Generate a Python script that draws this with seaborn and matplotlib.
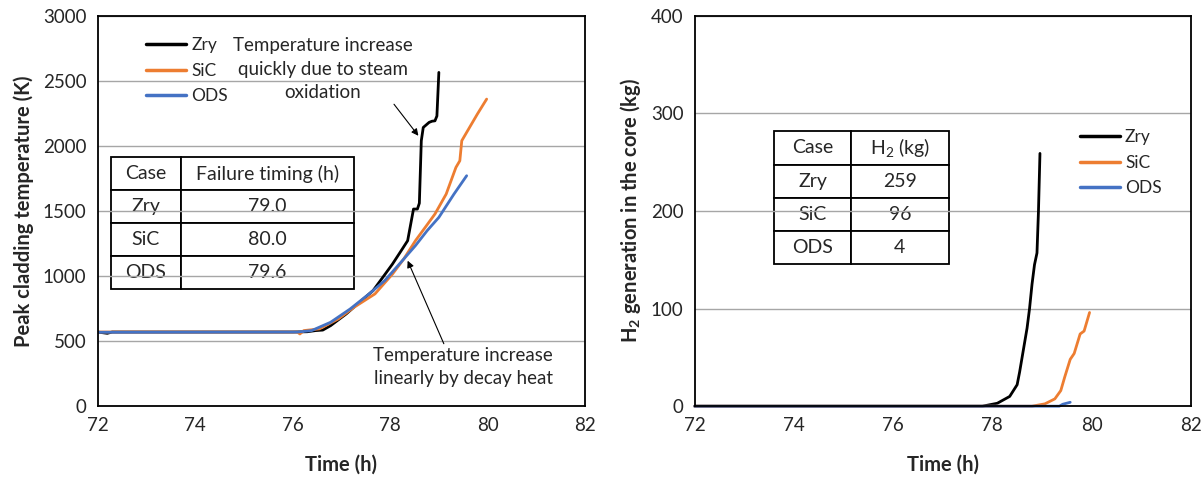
import pandas as pd
import seaborn as sns
import matplotlib.pyplot as plt

# Peak cladding temperature (K) vs time (h)
zry_t = [72.0, 72.2, 72.3, 76.0, 76.3, 76.47, 76.62, 76.78, 77.1, 77.41, 77.65, 77.85, 78.05,
         78.25, 78.36, 78.48, 78.56, 78.6, 78.64, 78.68, 78.8, 78.86, 78.92, 78.96, 79.0]
zry_temp = [570, 560, 570, 570, 572, 581, 585, 619, 709, 811, 888, 990, 1093,
            1208, 1272, 1515, 1515, 1560, 2040, 2142, 2181, 2190, 2193, 2230, 2565]
sic_t = [72.0, 76.1, 76.15, 76.23, 76.55, 76.94, 77.26, 77.69, 78.05, 78.28, 78.52, 78.72,
         78.92, 79.15, 79.35, 79.43, 79.47, 79.59, 79.79, 79.98]
sic_temp = [570, 570, 555, 581, 594, 671, 760, 863, 1016, 1131, 1272, 1374,
            1477, 1630, 1835, 1886, 2040, 2117, 2245, 2360]
ods_t = [72.0, 76.11, 76.39, 76.78, 77.18, 77.57, 77.89, 78.25, 78.52, 78.76, 79.0, 79.31, 79.57]
ods_temp = [568, 570, 581, 645, 747, 863, 965, 1118, 1234, 1349, 1451, 1630, 1771]

# H2 generation in the core (kg) vs time (h)
zry_h2_t = [72.0, 77.8, 78.1, 78.35, 78.5, 78.55, 78.6, 78.65, 78.7, 78.75, 78.8, 78.85, 78.9, 78.93, 78.96]
zry_h2 = [0, 0, 3, 10, 22, 35, 50, 65, 80, 100, 125, 145, 157, 200, 259]
sic_h2_t = [72.0, 78.8, 79.06, 79.26, 79.38, 79.46, 79.57, 79.65, 79.77, 79.85, 79.96]
sic_h2 = [0, 0, 2.4, 7.5, 16, 30, 48, 54, 74, 77, 96]
ods_h2_t = [72.0, 79.35, 79.42, 79.57]
ods_h2 = [0, 0, 2, 4]

cases = ["Zry", "SiC", "ODS"]
colors = ["#000000", "#ED7D31", "#4472C4"]
failure_timing = ["79.0", "80.0", "79.6"]
h2_total = ["259", "96", "4"]

sns.set_style("white")
plt.rcParams["font.family"] = ["Lato", "DejaVu Sans"]
plt.rcParams["mathtext.fontset"] = "custom"
plt.rcParams["mathtext.rm"] = "Lato"
plt.rcParams["mathtext.bf"] = "Lato:bold"
plt.rcParams["mathtext.default"] = "regular"

temp_df = pd.concat([
    pd.DataFrame({"time": zry_t, "value": zry_temp, "case": "Zry"}),
    pd.DataFrame({"time": sic_t, "value": sic_temp, "case": "SiC"}),
    pd.DataFrame({"time": ods_t, "value": ods_temp, "case": "ODS"}),
])
h2_df = pd.concat([
    pd.DataFrame({"time": zry_h2_t, "value": zry_h2, "case": "Zry"}),
    pd.DataFrame({"time": sic_h2_t, "value": sic_h2, "case": "SiC"}),
    pd.DataFrame({"time": ods_h2_t, "value": ods_h2, "case": "ODS"}),
])

fig = plt.figure(figsize=(12.04, 4.79), dpi=100)
ax1 = fig.add_axes([0.081, 0.152, 0.405, 0.815])
ax2 = fig.add_axes([0.577, 0.152, 0.412, 0.815])

palette = dict(zip(cases, colors))
sns.lineplot(data=temp_df, x="time", y="value", hue="case", hue_order=cases,
             palette=palette, estimator=None, linewidth=2, ax=ax1)
sns.lineplot(data=h2_df, x="time", y="value", hue="case", hue_order=cases,
             palette=palette, estimator=None, linewidth=2, ax=ax2)

for ax in (ax1, ax2):
    ax.set_xlim(72, 82)
    ax.set_xticks(range(72, 83, 2))
    ax.grid(axis="y", color="#a6a6a6", linewidth=1)
    ax.set_axisbelow(True)
    for s in ax.spines.values():
        s.set_color("black")
        s.set_linewidth(1.3)
    ax.tick_params(axis="x", direction="in", length=4, labelsize=13.5, pad=8, color="black")
    ax.tick_params(axis="y", direction="out", length=0, labelsize=13.5, pad=8)
    ax.set_xlabel("Time (h)", fontsize=14.5, fontweight="bold", labelpad=15)

ax1.set_ylim(0, 3000)
ax1.set_yticks(range(0, 3001, 500))
ax1.set_ylabel("Peak cladding temperature (K)", fontsize=14.5, fontweight="bold", labelpad=6)
ax2.set_ylim(0, 400)
ax2.set_yticks(range(0, 401, 100))
ax2.set_ylabel(r"$\mathbf{H_2}$ generation in the core (kg)", fontsize=14.5, fontweight="bold", labelpad=6)
for line in ax2.lines:
    line.set_clip_on(False)

sns.move_legend(ax1, "upper left", bbox_to_anchor=(0.068, 0.985), frameon=False, title=None,
                fontsize=12.5, handlelength=2.3, labelspacing=0.55, handletextpad=0.3)
sns.move_legend(ax2, "upper left", bbox_to_anchor=(0.745, 0.75), frameon=False, title=None,
                fontsize=12.5, handlelength=2.3, labelspacing=0.55, handletextpad=0.3)
for leg in (ax1.get_legend(), ax2.get_legend()):
    for h in leg.legend_handles:
        h.set_linewidth(2.5)

# tables
t1 = ax1.table(cellText=[["Case", "Failure timing (h)"]] + [[c, v] for c, v in zip(cases, failure_timing)],
               cellLoc="center", colWidths=[0.285, 0.715], bbox=[0.028, 0.299, 0.499, 0.339])
t2 = ax2.table(cellText=[["Case", "H$_2$ (kg)"]] + [[c, v] for c, v in zip(cases, h2_total)],
               cellLoc="center", colWidths=[0.44, 0.56], bbox=[0.16, 0.364, 0.352, 0.34])
for t in (t1, t2):
    t.auto_set_font_size(False)
    t.set_fontsize(14)
    for cell in t.get_celld().values():
        cell.set_linewidth(1.3)
        cell.set_edgecolor("black")
        cell.set_facecolor("white")

# annotations
ax1.annotate("Temperature increase\nquickly due to steam\noxidation", xy=(78.58, 2078), xytext=(76.62, 2590),
             ha="center", va="center", fontsize=13.5, linespacing=1.45,
             arrowprops=dict(arrowstyle="-|>", color="black", lw=0.8, shrinkA=0, shrinkB=0,
                             mutation_scale=10, relpos=(0.8, 0.3)))
ax1.annotate("Temperature increase\nlinearly by decay heat", xy=(78.36, 1118), xytext=(79.5, 300),
             ha="center", va="center", fontsize=13.5, linespacing=1.45,
             arrowprops=dict(arrowstyle="-|>", color="black", lw=0.8, shrinkA=0, shrinkB=0,
                             mutation_scale=10, relpos=(0.4, 1.0)))

fig.savefig("out.png", dpi=100)
